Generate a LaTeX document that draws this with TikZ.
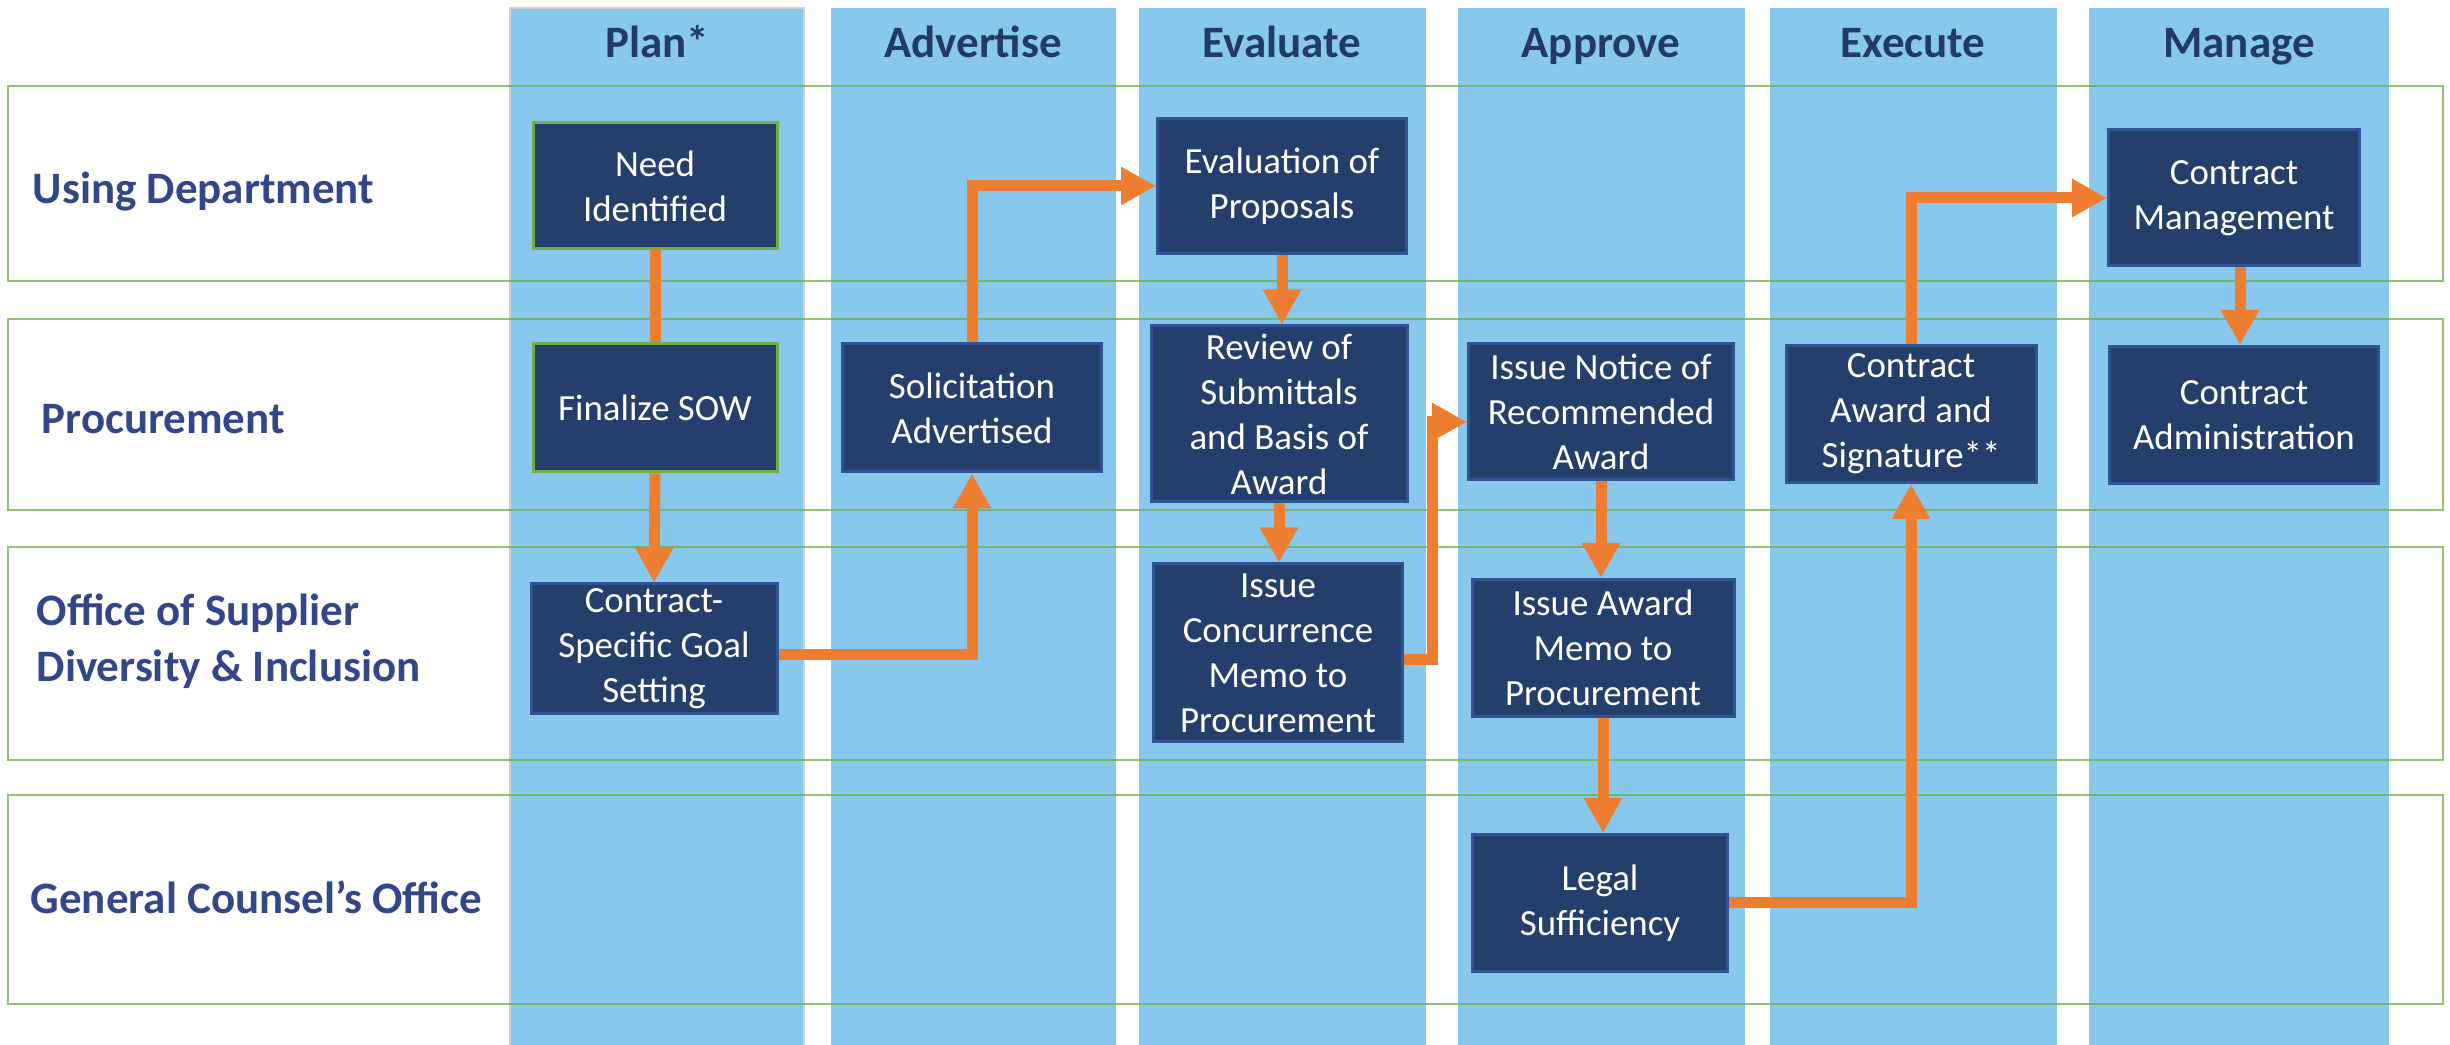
\documentclass[tikz,border=0pt]{standalone}
\usepackage{fontspec}
\setmainfont{Carlito}
\usetikzlibrary{arrows.meta, positioning}
\definecolor{colblue}{RGB}{135,200,236}
\definecolor{navy}{RGB}{36,63,108}
\definecolor{navyedge}{RGB}{47,85,151}
\definecolor{lanegreen}{RGB}{112,173,71}
\definecolor{flowor}{RGB}{237,125,49}
\definecolor{lanetext}{RGB}{52,70,138}
\definecolor{headtext}{RGB}{33,58,104}
\tikzstyle{lane} = [draw=lanegreen, line width=0.2mm, draw opacity=0.75]
\tikzstyle{phase} = [fill=colblue, draw=none]
\tikzstyle{phasehead} = [anchor=base, inner sep=0pt, font=\bfseries\fontsize{12.8}{15.6}\selectfont, text=headtext]
\tikzstyle{lanelabel} = [anchor=base west, align=left, inner sep=0pt, font=\bfseries\fontsize{12.8}{15.9}\selectfont, text=lanetext]
\tikzstyle{task} = [rectangle, draw=navyedge, line width=0.3mm, fill=navy, text=white, align=center, inner sep=0pt, font=\fontsize{10.5}{12.8}\selectfont]
\tikzstyle{taskg} = [task, draw=lanegreen]
\tikzstyle{link} = [draw=flowor, line width=1.1mm]
\tikzstyle{flow} = [link, -{Triangle[width=3.6mm,length=3.5mm]}]

\begin{document}
\begin{tikzpicture}[x=0.1mm, y=-0.1mm]
				\useasboundingbox (0,0) rectangle (2450,1045);
				% phase columns
				\foreach \xa/\xb in {510/804, 831/1116, 1139/1426, 1458/1745, 1770/2057, 2089/2389}
					\fill[phase] (\xa,8) rectangle (\xb,1045);
				\draw[gray!35, line width=0.2mm] (510,1045) -- (510,8) -- (804,8) -- (804,1045);
				% swim lanes
				\foreach \ya/\yb in {86/281, 319/510, 547/760, 795/1004}
					\draw[lane] (8,\ya) rectangle (2443,\yb);

				\node (plan) [phasehead] at (657,58) {Plan*};
				\node (advertise) [phasehead] at (973,58) {Advertise};
				\node (evaluate) [phasehead] at (1282,58) {Evaluate};
				\node (approve) [phasehead] at (1601,58) {Approve};
				\node (execute) [phasehead] at (1913,58) {Execute};
				\node (manage) [phasehead] at (2239,58) {Manage};

				\node (using) [lanelabel] at (32,204) {Using Department};
				\node (procure) [lanelabel] at (41,434) {Procurement};
				\node (osdi) [lanelabel, anchor=west] at (36,641) {Office of Supplier\\Diversity \& Inclusion};
				\node (gco) [lanelabel] at (30,914) {General Counsel’s Office};

				% tasks
				\node (need) [taskg, minimum width=24.4mm, minimum height=12.6mm] at (655,186) {Need\\Identified};
				\node (sow) [taskg, minimum width=24.4mm, minimum height=12.8mm] at (655,408) {Finalize SOW};
				\node (goal) [task, minimum width=24.6mm, minimum height=13mm] at (654,649) {Contract-\\Specific Goal\\Setting};
				\node (solic) [task, minimum width=25.9mm, minimum height=12.8mm] at (972,408) {Solicitation\\Advertised};
				\node (evalp) [task, minimum width=24.9mm, minimum height=13.5mm] at (1282,186) {Evaluation of\\Proposals};
				\node (review) [task, minimum width=25.6mm, minimum height=17.6mm] at (1279,414) {Review of\\Submittals\\and Basis of\\Award};
				\node (concur) [task, minimum width=24.9mm, minimum height=17.8mm] at (1278,653) {Issue\\Concurrence\\Memo to\\Procurement};
				\node (notice) [task, minimum width=26.5mm, minimum height=13.6mm] at (1601,412) {Issue Notice of\\Recommended\\Award};
				\node (memo) [task, minimum width=26.2mm, minimum height=13.7mm] at (1603,648) {Issue Award\\Memo to\\Procurement};
				\node (legal) [task, minimum width=25.5mm, minimum height=13.7mm] at (1600,903) {Legal\\Sufficiency};
				\node (award) [task, minimum width=25mm, minimum height=13.7mm] at (1911,414) {Contract\\Award and\\Signature**};
				\node (mgmt) [task, minimum width=25.1mm, minimum height=13.6mm] at (2234,198) {Contract\\Management};
				\node (admin) [task, minimum width=26.9mm, minimum height=13.7mm] at (2244,415) {Contract\\Administration};

				% flows
				\draw[link] (need.south) -- (sow.north);
				\draw[flow] (sow.south) -- (goal.north);
				\draw[flow] ([yshift=-0.6mm]goal.east) -| (solic.south);
				\draw[flow] (solic.north) |- (evalp.west);
				\draw[flow] (evalp.south) -- (evalp.south |- review.north);
				\draw[flow] (review.south) -- (review.south |- concur.north);
				\draw[flow] ([yshift=-0.7mm]concur.east) -- ++(28,0) |- ([yshift=-1mm]notice.west);
				\draw[flow] (notice.south) -- (notice.south |- memo.north);
				\draw[flow] (memo.south) -- (memo.south |- legal.north);
				\draw[flow] (legal.east) -| (award.south);
				\draw[flow] (award.north) |- (mgmt.west);
				\draw[flow] ([xshift=0.6mm]mgmt.south) -- ([xshift=0.6mm]mgmt.south |- admin.north);
			\end{tikzpicture}
\end{document}
